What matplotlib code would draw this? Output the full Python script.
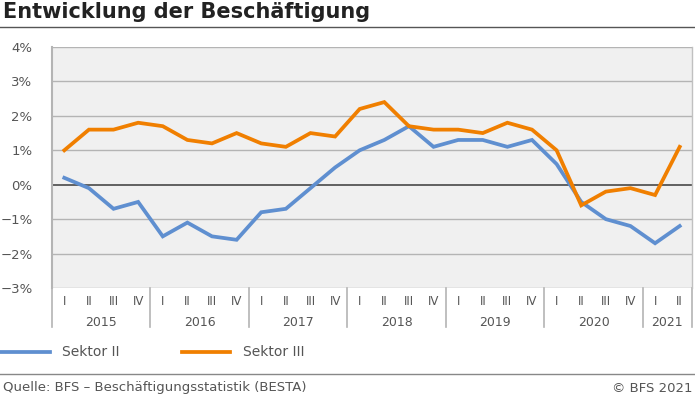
import numpy as np
import matplotlib
matplotlib.use('Agg')
import matplotlib.pyplot as plt
import matplotlib.transforms as mtransforms

# data: quarterly change in employment, %
years = ['2015', '2016', '2017', '2018', '2019', '2020', '2021']
quarters = ['I', 'II', 'III', 'IV'] * 6 + ['I', 'II']
sektor2 = [0.2, -0.1, -0.7, -0.5,
           -1.5, -1.1, -1.5, -1.6,
           -0.8, -0.7, -0.1, 0.5,
           1.0, 1.3, 1.7, 1.1,
           1.3, 1.3, 1.1, 1.3,
           0.6, -0.5, -1.0, -1.2,
           -1.7, -1.2]
sektor3 = [1.0, 1.6, 1.6, 1.8,
           1.7, 1.3, 1.2, 1.5,
           1.2, 1.1, 1.5, 1.4,
           2.2, 2.4, 1.7, 1.6,
           1.6, 1.5, 1.8, 1.6,
           1.0, -0.6, -0.2, -0.1,
           -0.3, 1.1]
yticks = [-3, -2, -1, 0, 1, 2, 3, 4]

blue = '#5f8fd0'
orange = '#f07f00'
grey_txt = '#555555'

plt.rcParams['font.family'] = ['DejaVu Sans']

fig = plt.figure(figsize=(6.95, 3.95), dpi=100)
ax = fig.add_axes([52 / 695, 1 - 288 / 395, 640 / 695, 241 / 395])
ax.set_facecolor('#f0f0f0')

x = np.arange(len(sektor2))
ax.plot(x, sektor2, color=blue, lw=2.7, solid_joinstyle='miter', zorder=3)
ax.plot(x, sektor3, color=orange, lw=2.7, solid_joinstyle='miter', zorder=3)

ax.set_xlim(-0.5, len(x) - 0.5)
ax.set_ylim(-3, 4)
ax.set_yticks(yticks)
ax.set_yticklabels([('\u2212' if v < 0 else '') + '%d%%' % abs(v) for v in yticks],
                   fontsize=9.5, color=grey_txt)
for v in yticks:
    ax.axhline(v, color='#555555' if v == 0 else '#b4b4b4',
               lw=1.3 if v == 0 else 1.0, zorder=1)

ax.set_xticks(x)
ax.set_xticklabels(quarters, fontsize=8.5, color=grey_txt)
ax.tick_params(axis='both', length=0)
ax.tick_params(axis='x', pad=5)
ax.tick_params(axis='y', pad=14)

for s in ['top', 'bottom']:
    ax.spines[s].set_visible(False)
ax.spines['right'].set_color('#c0c0c0')
ax.spines['right'].set_linewidth(1.0)
ax.spines['left'].set_color('#b4b4b4')
ax.spines['left'].set_linewidth(1.5)

# year separators and labels under the axis
trans = mtransforms.blended_transform_factory(ax.transData, ax.transAxes)
bounds = list(range(0, len(x), 4)) + [len(x)]
for b in bounds:
    ax.plot([b - 0.5, b - 0.5], [0, -0.162], transform=trans, color='#b4b4b4',
            lw=1.2, clip_on=False)
for i, yr in enumerate(years):
    lo = bounds[i] - 0.5
    hi = bounds[i + 1] - 0.5
    ax.text((lo + hi) / 2, -0.145, yr, transform=trans, ha='center', va='center',
            fontsize=9, color=grey_txt)

# title and rule
fig.text(3 / 695, 1 - 12 / 395, 'Entwicklung der Beschäftigung', fontsize=15,
         fontweight='bold', color='#222222', ha='left', va='center')
fig.add_artist(plt.Line2D([0, 1], [1 - 27 / 395] * 2, color='#555555', lw=1.0))

# legend
ly = 1 - 352 / 395
fig.add_artist(plt.Line2D([0, 50 / 695], [ly, ly], color=blue, lw=2.7))
fig.text(62 / 695, ly, 'Sektor II', fontsize=10, color=grey_txt, va='center')
fig.add_artist(plt.Line2D([182 / 695, 230 / 695], [ly, ly], color=orange, lw=2.7))
fig.text(243 / 695, ly, 'Sektor III', fontsize=10, color=grey_txt, va='center')

# footer
fig.add_artist(plt.Line2D([0, 1], [1 - 374 / 395] * 2, color='#888888', lw=1.0))
fig.text(3 / 695, 1 - 388 / 395, 'Quelle: BFS \u2013 Beschäftigungsstatistik (BESTA)',
         fontsize=9.5, color=grey_txt, va='center')
fig.text(692 / 695, 1 - 388 / 395, '\u00a9 BFS 2021', fontsize=9.5, color=grey_txt,
         va='center', ha='right')

fig.savefig('out.png', dpi=100)
